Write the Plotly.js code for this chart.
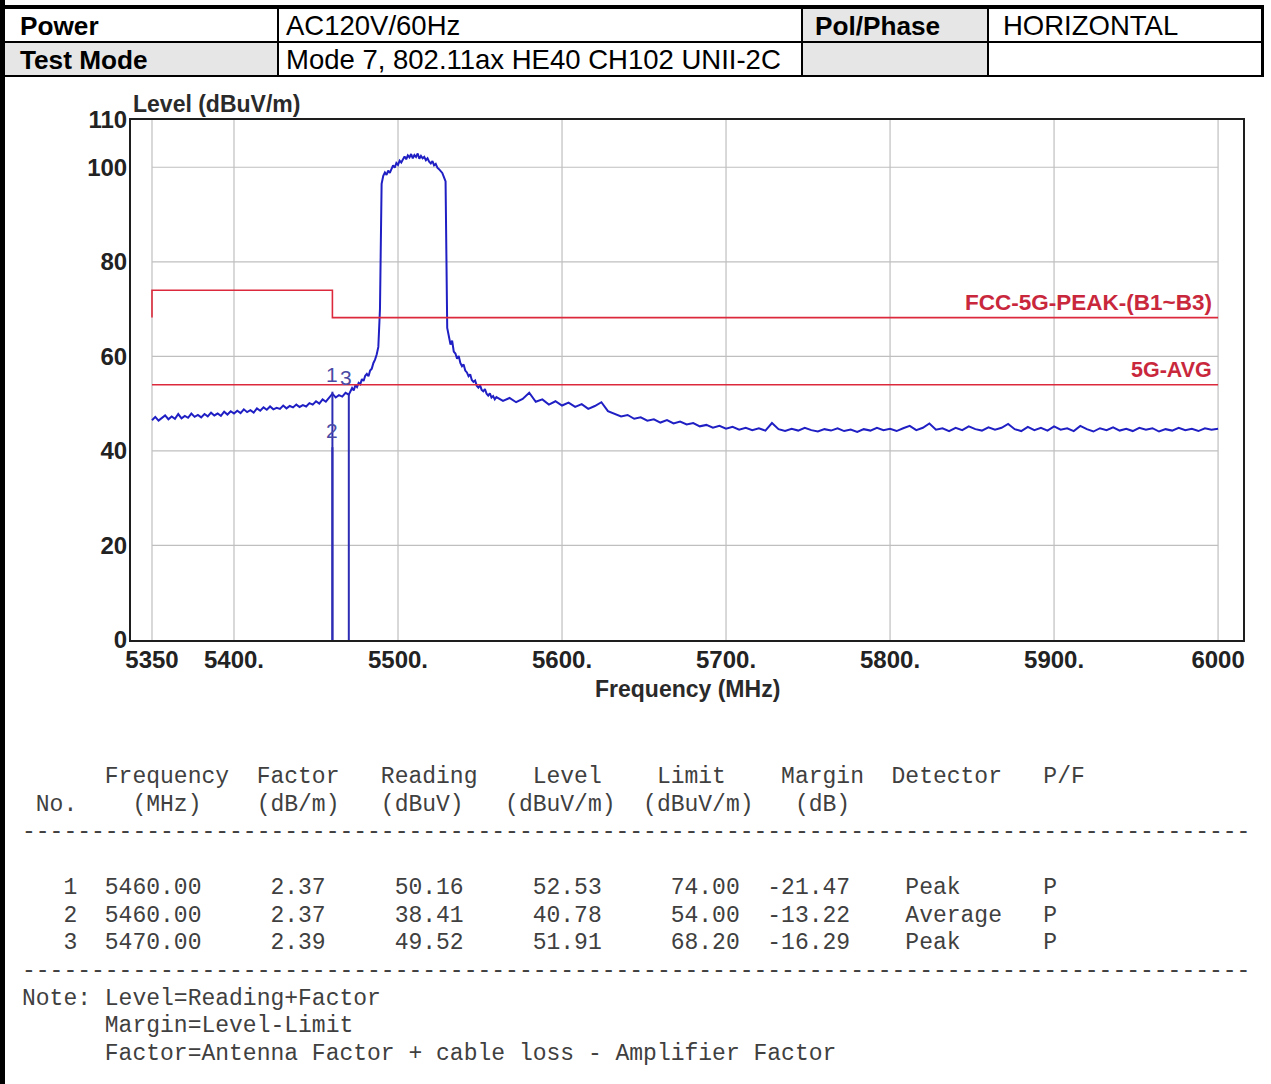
<!DOCTYPE html>
<html>
<head>
<meta charset="utf-8">
<script src="https://cdn.plot.ly/plotly-3.0.1.min.js"></script>
<style>
  html, body { margin:0; padding:0; background:#fff; }
  #page { position:relative; width:1271px; height:1084px; overflow:hidden; background:#fff; }
  .ln { position:absolute; background:#000; }
  .cell { position:absolute; }
  .gray { background:#e6e6e6; }
  .htxt { position:absolute; font-family:'Liberation Sans', Arial, sans-serif; color:#000; white-space:nowrap; }
  .hb { font-weight:bold; font-size:26.2px; line-height:26.2px; }
  .hr { font-weight:normal; font-size:27.5px; line-height:27.5px; }
  #chart { position:absolute; left:0; top:80px; width:1271px; height:640px; }
  #report { position:absolute; left:22px; top:764px; margin:0; font-family:'Liberation Mono','DejaVu Sans Mono', monospace; font-size:23px; line-height:27.7px; color:#404040; white-space:pre; }
</style>
</head>
<body>
<div id="page">
  <!-- header cells -->
  <div class="cell gray" style="left:803px;top:9px;width:184px;height:32px;"></div>
  <div class="cell gray" style="left:5px;top:43px;width:272px;height:32px;"></div>
  <div class="cell gray" style="left:803px;top:43px;width:184px;height:32px;"></div>
  <!-- header lines -->
  <div class="ln" style="left:0;top:5px;width:1264px;height:4px;"></div>
  <div class="ln" style="left:5px;top:41px;width:1259px;height:2px;"></div>
  <div class="ln" style="left:0;top:75px;width:1264px;height:2px;"></div>
  <div class="ln" style="left:277px;top:5px;width:2px;height:72px;"></div>
  <div class="ln" style="left:801px;top:5px;width:2px;height:72px;"></div>
  <div class="ln" style="left:987px;top:5px;width:2px;height:72px;"></div>
  <div class="ln" style="left:1261px;top:5px;width:3px;height:72px;"></div>
  <div class="ln" style="left:0;top:0;width:5px;height:1084px;"></div>
  <div id="hdr"></div>
  <div id="chart"></div>
  <pre id="report"></pre>
</div>
<script>
// ---------- header table text ----------
const headerRow1 = ['Power', 'AC120V/60Hz', 'Pol/Phase', 'HORIZONTAL'];
const headerRow2 = ['Test Mode', 'Mode 7, 802.11ax HE40 CH102 UNII-2C', '', ''];

// ---------- sweep data ----------
const sweepLowFreq = [
  5350,5352,5354,5356,5358,5360,5362,5364,5366,5368,
  5370,5372,5374,5376,5378,5380,5382,5384,5386,5388,
  5390,5392,5394,5396,5398,5400,5402,5404,5406,5408,
  5410,5412,5414,5416,5418,5420,5422,5424,5426,5428,
  5430,5432,5434,5436,5438,5440,5442,5444,5446,5448,
  5450,5452,5454,5456,5458,5460,5462,5464,5466,5468,
  5470];
const sweepLowLevel = [
  46.5,47.2,46.4,46.9,47.5,46.7,47.3,46.8,47.8,46.9,
  47.4,47.0,47.9,47.2,47.6,47.1,47.8,47.3,48.1,47.5,
  47.9,47.4,48.3,47.7,48.4,47.9,48.5,48.0,48.8,48.2,
  48.6,48.1,49.0,48.5,49.2,48.7,49.4,48.8,49.1,48.9,
  49.6,49.0,49.5,49.2,49.8,49.3,49.7,49.4,50.1,49.8,
  50.5,50.0,50.9,50.4,51.2,52.1,51.3,51.8,51.5,52.3,
  51.9];
const sweepBandFreq = [
  5471,5472,5473,5474,5475,5476,5477,5478,5479,5480,
  5481,5482,5483,5484,5485,5486,5487,5488,5489,5490,
  5491,5492,5493,5494,5495,5496,5497,5498,5499,5500,
  5501,5502,5503,5504,5505,5506,5507,5508,5509,5510,
  5511,5512,5513,5514,5515,5516,5517,5518,5519,5520,
  5521,5522,5523,5524,5525,5526,5527,5528,5529,5530,
  5531,5532,5533,5534,5535,5536,5537,5538,5539,5540,
  5541,5542,5543,5544,5545,5546,5547,5548,5549,5550,
  5551,5552,5553,5554,5555,5556,5557,5558,5559,5560];
const sweepBandLevel = [
  52.6,53.3,52.8,53.9,53.5,54.4,54.1,55.2,54.8,55.9,
  56.3,55.8,57.0,57.4,58.6,59.3,60.4,62.0,70.0,96.5,
  98.2,98.9,98.4,99.3,98.8,99.8,100.4,99.9,100.9,100.5,
  101.4,101.0,101.8,102.3,101.7,102.5,102.1,102.8,101.9,102.6,
  102.2,102.9,101.8,102.4,101.9,102.2,101.5,101.9,101.2,100.8,
  101.3,100.4,100.7,99.9,99.6,99.1,98.8,97.9,97.0,66.0,
  63.8,62.5,63.3,61.0,60.6,59.5,60.1,58.6,57.9,58.3,
  57.0,56.6,55.8,56.2,55.0,54.6,54.9,53.8,53.4,53.9,
  52.9,52.6,53.1,52.1,51.7,52.2,51.3,51.6,50.9,51.4];
const sweepHighFreq = [
  5564,5568,5572,5576,5580,5584,5588,5592,5596,5600,
  5604,5608,5612,5616,5620,5624,5628,5632,5636,5640,
  5644,5648,5652,5656,5660,5664,5668,5672,5676,5680,
  5684,5688,5692,5696,5700,5704,5708,5712,5716,5720,
  5724,5728,5732,5736,5740,5744,5748,5752,5756,5760,
  5764,5768,5772,5776,5780,5784,5788,5792,5796,5800,
  5804,5808,5812,5816,5820,5824,5828,5832,5836,5840,
  5844,5848,5852,5856,5860,5864,5868,5872,5876,5880,
  5884,5888,5892,5896,5900,5904,5908,5912,5916,5920,
  5924,5928,5932,5936,5940,5944,5948,5952,5956,5960,
  5964,5968,5972,5976,5980,5984,5988,5992,5996,6000];
const sweepHighLevel = [
  50.6,51.2,50.3,51.0,52.3,50.4,50.9,49.8,50.5,49.6,
  50.2,49.3,49.9,48.9,49.5,50.3,48.4,47.9,47.3,47.6,
  46.8,47.1,46.4,46.7,46.0,46.5,45.8,46.2,45.6,45.9,
  45.2,45.5,44.9,45.3,44.7,45.1,44.5,44.9,44.4,44.8,
  44.3,45.9,44.6,44.2,44.7,44.3,44.9,44.4,44.1,44.6,
  44.3,44.8,44.2,44.5,44.0,44.6,44.3,44.9,44.4,44.7,
  44.2,44.8,45.3,44.4,44.9,45.8,44.5,44.8,44.2,44.9,
  44.4,45.2,44.6,44.3,45.0,44.5,44.9,45.7,44.6,44.2,
  45.1,44.4,44.9,44.3,45.2,44.5,44.8,44.2,45.3,44.6,
  44.1,44.8,44.4,45.0,44.3,44.7,44.2,44.9,44.5,44.8,
  44.1,44.6,44.3,44.9,44.4,44.7,44.2,44.8,44.5,44.7];

// ---------- limit lines ----------
const peakLimitFreq  = [5350, 5350, 5460, 5460, 6000];
const peakLimitLevel = [68.2, 74.0, 74.0, 68.2, 68.2];
const avgLimitFreq   = [5350, 6000];
const avgLimitLevel  = [54.0, 54.0];
const peakLimitName = 'FCC-5G-PEAK-(B1~B3)';
const avgLimitName  = '5G-AVG';

// ---------- markers / result table ----------
const mkNo       = [1, 2, 3];
const mkFreq     = [5460.00, 5460.00, 5470.00];
const mkFactor   = [2.37, 2.37, 2.39];
const mkReading  = [50.16, 38.41, 49.52];
const mkLevel    = [52.53, 40.78, 51.91];
const mkLimit    = [74.00, 54.00, 68.20];
const mkMargin   = [-21.47, -13.22, -16.29];
const mkDetector = ['Peak', 'Average', 'Peak'];
const mkPF       = ['P', 'P', 'P'];

const colHeads = ['Frequency', 'Factor', 'Reading', 'Level', 'Limit', 'Margin', 'Detector', 'P/F'];
const colUnits = ['No.', '(MHz)', '(dB/m)', '(dBuV)', '(dBuV/m)', '(dBuV/m)', '(dB)'];
const noteLines = ['Note: Level=Reading+Factor', 'Margin=Level-Limit', 'Factor=Antenna Factor + cable loss - Amplifier Factor'];

// ---------- axes ----------
const xTickVals = [5350, 5400, 5500, 5600, 5700, 5800, 5900, 6000];
const xTickText = ['5350', '5400.', '5500.', '5600.', '5700.', '5800.', '5900.', '6000'];
const yTickVals = [0, 20, 40, 60, 80, 100, 110];
const yTickText = ['0', '20', '40', '60', '80', '100', '110'];
const xTitle = 'Frequency (MHz)';
const yTitle = 'Level (dBuV/m)';

// ---------- header text ----------
(function () {
  const hdr = document.getElementById('hdr');
  const xs = [20, 286, 815, 1003];
  const bold = [true, false, true, false];
  [[headerRow1, [13.3, 12.3]], [headerRow2, [46.5, 45.8]]].forEach(([row, tops]) => {
    row.forEach((t, i) => {
      if (!t) return;
      const d = document.createElement('div');
      d.className = 'htxt ' + (bold[i] ? 'hb' : 'hr');
      d.style.left = xs[i] + 'px';
      d.style.top = (bold[i] ? tops[0] : tops[1]) + 'px';
      d.textContent = t;
      hdr.appendChild(d);
    });
  });
})();

// ---------- report text ----------
(function () {
  function put(line, col, s) { while (line.length < col) line += ' '; return line + s; }
  function putR(line, endCol, s) { return put(line, endCol - s.length, s); }
  const lines = [];
  const headCols = [6, 17, 26, 37, 46, 55, 63, 74];
  let l = '';
  colHeads.forEach((h, i) => { l = put(l, headCols[i], h); });
  lines.push(l);
  const unitCols = [1, 8, 17, 26, 35, 45, 56];
  l = '';
  colUnits.forEach((h, i) => { l = put(l, unitCols[i], h); });
  lines.push(l);
  const dash = '-'.repeat(89);
  lines.push(dash);
  lines.push('');
  mkNo.forEach((n, i) => {
    let r = '';
    r = putR(r, 4, String(n));
    r = put(r, 6, mkFreq[i].toFixed(2));
    r = putR(r, 22, mkFactor[i].toFixed(2));
    r = putR(r, 32, mkReading[i].toFixed(2));
    r = putR(r, 42, mkLevel[i].toFixed(2));
    r = putR(r, 52, mkLimit[i].toFixed(2));
    r = putR(r, 60, mkMargin[i].toFixed(2));
    r = put(r, 64, mkDetector[i]);
    r = put(r, 74, mkPF[i]);
    lines.push(r);
  });
  lines.push(dash);
  lines.push(noteLines[0]);
  lines.push(put('', 6, noteLines[1]));
  lines.push(put('', 6, noteLines[2]));
  document.getElementById('report').textContent = lines.join('\n');
})();

// ---------- chart ----------
const FONT = "'Liberation Sans', Arial, sans-serif";
const sweepFreq = sweepLowFreq.concat(sweepBandFreq, sweepHighFreq);
const sweepLevel = sweepLowLevel.concat(sweepBandLevel, sweepHighLevel);

const traces = [];
traces.push({ x: sweepFreq, y: sweepLevel, type: 'scatter', mode: 'lines',
  line: { color: '#1f1fc4', width: 2 }, hoverinfo: 'skip' });
traces.push({ x: peakLimitFreq, y: peakLimitLevel, type: 'scatter', mode: 'lines',
  line: { color: '#dc2a3c', width: 1.6 }, hoverinfo: 'skip' });
traces.push({ x: avgLimitFreq, y: avgLimitLevel, type: 'scatter', mode: 'lines',
  line: { color: '#dc2a3c', width: 1.6 }, hoverinfo: 'skip' });
mkNo.forEach((n, i) => {
  traces.push({ x: [mkFreq[i], mkFreq[i]], y: [0, mkLevel[i]], type: 'scatter', mode: 'lines',
    line: { color: '#2c2cb4', width: 2 }, hoverinfo: 'skip' });
});

const shapes = [];
xTickVals.forEach(v => shapes.push({ type: 'line', xref: 'x', yref: 'y', x0: v, x1: v, y0: 0, y1: 110,
  line: { color: '#bfbfbf', width: 1.2 }, layer: 'below' }));
yTickVals.filter(v => v > 0 && v < 110).forEach(v => shapes.push({ type: 'line', xref: 'x', yref: 'y',
  x0: xTickVals[0], x1: xTickVals[xTickVals.length - 1], y0: v, y1: v,
  line: { color: '#bfbfbf', width: 1.2 }, layer: 'below' }));

const annotations = [];
annotations.push({ xref: 'x', yref: 'y', x: peakLimitFreq[peakLimitFreq.length - 1], y: peakLimitLevel[peakLimitLevel.length - 1],
  text: peakLimitName, showarrow: false, xanchor: 'right', yanchor: 'bottom', xshift: -4, yshift: 1,
  font: { family: FONT, size: 22.5, color: '#c9283c', weight: 'bold' } });
annotations.push({ xref: 'x', yref: 'y', x: avgLimitFreq[avgLimitFreq.length - 1], y: avgLimitLevel[avgLimitLevel.length - 1],
  text: avgLimitName, showarrow: false, xanchor: 'right', yanchor: 'bottom', xshift: -4, yshift: 1,
  font: { family: FONT, size: 21.5, color: '#c9283c', weight: 'bold' } });
mkNo.forEach((n, i) => {
  annotations.push({ xref: 'x', yref: 'y', x: mkFreq[i], y: mkLevel[i], text: String(n), showarrow: false,
    xanchor: 'center', yanchor: 'middle', yshift: 17, xshift: (n === 3 ? -3 : 0),
    font: { family: FONT, size: 21, color: '#4a4aa4' } });
});
annotations.push({ xref: 'paper', yref: 'paper', x: 0, y: 1, xanchor: 'left', yanchor: 'bottom', yshift: 1,
  text: yTitle, showarrow: false, font: { family: FONT, size: 23, color: '#2a2a2a', weight: 'bold' } });
annotations.push({ xref: 'paper', yref: 'paper', x: 0.5, y: 0, xanchor: 'center', yanchor: 'top', yshift: -34,
  text: xTitle, showarrow: false, font: { family: FONT, size: 23, color: '#2a2a2a', weight: 'bold' } });

const axisCommon = { showgrid: false, zeroline: false, showline: true, mirror: true,
  linecolor: '#1e1e1e', linewidth: 2, ticks: '', fixedrange: true, ticklabelstandoff: -3,
  tickfont: { family: FONT, size: 24, color: '#222', weight: 'bold' } };

const layout = {
  width: 1271, height: 640,
  margin: { l: 131, r: 28, t: 40, b: 80, pad: 0 },
  paper_bgcolor: 'rgba(0,0,0,0)', plot_bgcolor: '#ffffff',
  showlegend: false,
  xaxis: Object.assign({}, axisCommon, { range: [5337.2, 6015.2], tickmode: 'array', tickvals: xTickVals, ticktext: xTickText }),
  yaxis: Object.assign({}, axisCommon, { range: [0, 110], tickmode: 'array', tickvals: yTickVals, ticktext: yTickText }),
  shapes: shapes,
  annotations: annotations
};

Plotly.newPlot('chart', traces, layout, { displayModeBar: false, staticPlot: true });
</script>
</body>
</html>
